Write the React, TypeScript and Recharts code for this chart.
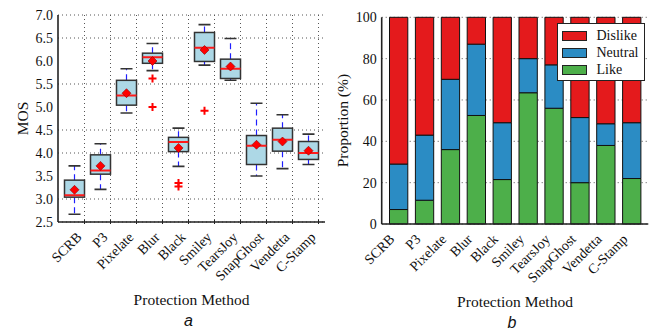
import React from "react";
import {
  ComposedChart,
  BarChart,
  Bar,
  XAxis,
  YAxis,
  CartesianGrid,
  Legend,
} from "recharts";

const METHODS = [
  "SCRB",
  "P3",
  "Pixelate",
  "Blur",
  "Black",
  "Smiley",
  "TearsJoy",
  "SnapGhost",
  "Vendetta",
  "C-Stamp",
];

// panel a: MOS box plot stats
const WHISKER_LOW = [2.67, 3.21, 4.87, 5.79, 3.71, 5.91, 5.58, 3.5, 3.66, 3.75];
const Q1 = [3.04, 3.54, 5.04, 5.95, 4.03, 5.99, 5.62, 3.75, 4.04, 3.86];
const MEDIAN = [3.08, 3.62, 5.25, 6.08, 4.24, 6.29, 5.83, 4.16, 4.29, 4.0];
const Q3 = [3.41, 3.96, 5.58, 6.17, 4.34, 6.62, 6.04, 4.38, 4.54, 4.25];
const WHISKER_HIGH = [3.72, 4.2, 5.83, 6.38, 4.54, 6.79, 6.49, 5.08, 4.83, 4.41];
const MEAN = [3.2, 3.72, 5.3, 6.0, 4.11, 6.24, 5.88, 4.18, 4.25, 4.05];
const OUTLIERS = [[], [], [], [5.62, 5.0], [3.35, 3.27], [4.92], [], [], [], []];
const MOS_TICKS = [2.5, 3.0, 3.5, 4.0, 4.5, 5.0, 5.5, 6.0, 6.5, 7.0];

// panel b: proportions (%)
const LIKE = [7, 11.5, 36, 52.5, 21.5, 63.5, 56, 20, 38, 22];
const NEUTRAL = [22, 31.5, 34, 34.5, 27.5, 16.5, 21, 31.5, 10.5, 27];
const DISLIKE = [71, 57, 30, 13, 51, 20, 23, 48.5, 51.5, 51];
const PCT_TICKS = [0, 20, 40, 60, 80, 100];

const SERIF = "'Liberation Serif', 'Times New Roman', serif";
const FRAME = "#222";
const GRID = "#555";
const RED = "#E41A1C";
const BLUE = "#2B8CC4";
const GREEN = "#4DAF4A";

const boxData = METHODS.map((name, i) => ({
  name,
  lo: WHISKER_LOW[i],
  q1: Q1[i],
  med: MEDIAN[i],
  q3: Q3[i],
  hi: WHISKER_HIGH[i],
  mean: MEAN[i],
  outliers: OUTLIERS[i],
}));

const voteData = METHODS.map((name, i) => ({
  name,
  like: LIKE[i],
  neutral: NEUTRAL[i],
  dislike: DISLIKE[i],
}));

function BoxShape(props: any) {
  const { x, y, width, height, payload } = props;
  if (!payload || !isFinite(y) || !isFinite(height)) return null;
  const top = Math.min(y, y + height);
  const h = Math.abs(height);
  const k = h / (payload.hi - payload.lo);
  const py = (v: number) => top + (payload.hi - v) * k;
  const cx = x + width / 2;
  const half = width / 2;
  const cap = 6;
  const m = py(payload.mean);
  return (
    <g>
      <line x1={cx} x2={cx} y1={py(payload.q3)} y2={py(payload.hi)} stroke="#1f1fff" strokeWidth={1.2} strokeDasharray="6 4" />
      <line x1={cx} x2={cx} y1={py(payload.q1)} y2={py(payload.lo)} stroke="#1f1fff" strokeWidth={1.2} strokeDasharray="6 4" />
      <line x1={cx - cap} x2={cx + cap} y1={py(payload.hi)} y2={py(payload.hi)} stroke="#333" strokeWidth={1.6} />
      <line x1={cx - cap} x2={cx + cap} y1={py(payload.lo)} y2={py(payload.lo)} stroke="#333" strokeWidth={1.6} />
      <rect
        x={cx - half}
        y={py(payload.q3)}
        width={width}
        height={py(payload.q1) - py(payload.q3)}
        fill="#ADD8E6"
        stroke="#333"
        strokeWidth={1.5}
      />
      <line x1={cx - half} x2={cx + half} y1={py(payload.med)} y2={py(payload.med)} stroke="#ff1a1a" strokeWidth={2} />
      <polygon
        points={`${cx},${m - 4.5} ${cx + 4.5},${m} ${cx},${m + 4.5} ${cx - 4.5},${m}`}
        fill="#ff0000"
        stroke="#8b0000"
        strokeWidth={0.6}
      />
      {payload.outliers.map((v: number, j: number) => {
        const oy = py(v);
        return (
          <g key={j}>
            <line x1={cx - 4} x2={cx + 4} y1={oy} y2={oy} stroke="#ff0000" strokeWidth={2} />
            <line x1={cx} x2={cx} y1={oy - 4} y2={oy + 4} stroke="#ff0000" strokeWidth={2} />
          </g>
        );
      })}
    </g>
  );
}

// rotated category label; optional short inward tick mark at `markDx`
const makeTick = (dx: number, markDx?: number) => (props: any) => {
  const { x, y, payload } = props;
  const tx = x + dx;
  const ty = y + 14;
  return (
    <g>
      {markDx != null && (
        <line x1={x + markDx} x2={x + markDx} y1={y} y2={y - 4} stroke={FRAME} strokeWidth={1} />
      )}
      <text
        x={tx}
        y={ty}
        transform={`rotate(-45 ${tx} ${ty})`}
        textAnchor="end"
        fontFamily={SERIF}
        fontSize={14}
        fill="#111"
      >
        {payload.value}
      </text>
    </g>
  );
};

const yTitle = (text: string, dx: number) => (props: any) => {
  const vb = props.viewBox || {};
  const x = (vb.x || 0) + dx;
  const y = (vb.y || 0) + (vb.height || 0) / 2;
  return (
    <text
      x={x}
      y={y}
      transform={`rotate(-90 ${x} ${y})`}
      textAnchor="middle"
      dominantBaseline="central"
      fontFamily={SERIF}
      fontSize={15.5}
      fill="#111"
    >
      {text}
    </text>
  );
};

const xTitle = (letter: string) => (props: any) => {
  const vb = props.viewBox || {};
  const x = (vb.x || 0) + (vb.width || 0) / 2;
  const y = vb.y || 0;
  return (
    <g>
      <text x={x} y={y + 83} textAnchor="middle" fontFamily={SERIF} fontSize={15.5} fill="#111">
        Protection Method
      </text>
      <text
        x={x - 3}
        y={y + 104}
        textAnchor="middle"
        fontFamily="'Liberation Sans', Arial, sans-serif"
        fontStyle="italic"
        fontSize={16}
        fill="#111"
      >
        {letter}
      </text>
    </g>
  );
};

// vertical grid lines sit a little right of each box (as in the source figure)
function gridX(shift: number) {
  return ({ xAxis, offset }: any) => {
    const scale = xAxis && xAxis.scale;
    const bw = scale && typeof scale.bandwidth === "function" ? scale.bandwidth() : null;
    const map =
      typeof scale === "function"
        ? (v: string) => scale(v)
        : scale && typeof scale.map === "function"
        ? (v: string) => scale.map(v)
        : null;
    if (bw != null && map) {
      const pts = METHODS.map((m) => map(m) + bw / 2 + shift);
      if (pts.every((p) => isFinite(p))) return pts;
    }
    const band = (offset.width - 7) / METHODS.length;
    return METHODS.map((_, i) => offset.left + 3.5 + band * (i + 0.5) + shift);
  };
}

function VoteLegend() {
  const items = [
    { label: "Dislike", color: RED },
    { label: "Neutral", color: BLUE },
    { label: "Like", color: GREEN },
  ];
  return (
    <div
      style={{
        background: "#fff",
        border: "1px solid #222",
        padding: "3px 6px 2px 4px",
        fontFamily: SERIF,
        fontSize: 14,
        color: "#111",
        lineHeight: "17px",
      }}
    >
      {items.map((it) => (
        <div key={it.label} style={{ display: "flex", alignItems: "center" }}>
          <span
            style={{
              display: "inline-block",
              width: 23,
              height: 8,
              background: it.color,
              border: "1px solid #222",
              marginRight: 10,
            }}
          />
          {it.label}
        </div>
      ))}
    </div>
  );
}

export default function App() {
  const axisLine = { stroke: FRAME, strokeWidth: 1.6 };
  return (
    <div
      style={{
        position: "absolute",
        left: 0,
        top: 0,
        width: 658,
        height: 332,
        background: "#fff",
      }}
    >
      <div style={{ position: "absolute", left: 0, top: 0 }}>
        <ComposedChart
          width={330}
          height={332}
          data={boxData}
          margin={{ top: 15, right: 5, bottom: 0, left: 0 }}
        >
          <CartesianGrid
            stroke={GRID}
            strokeDasharray="1 3"
            verticalCoordinatesGenerator={gridX(10)}
          />
          <XAxis
            dataKey="name"
            height={110}
            padding={{ left: 3.5, right: 3.5 }}
            axisLine={axisLine}
            tickLine={false}
            tickSize={0}
            interval={0}
            tick={makeTick(8, 10)}
            label={{ content: xTitle("a") }}
          />
          <XAxis
            xAxisId="top"
            orientation="top"
            dataKey="name"
            height={0}
            tick={false}
            tickLine={false}
            axisLine={axisLine}
          />
          <YAxis
            width={58}
            domain={[2.5, 7]}
            ticks={MOS_TICKS}
            allowDataOverflow
            tickFormatter={(v: number) => v.toFixed(1)}
            axisLine={axisLine}
            tickLine={false}
            tickSize={0}
            tickMargin={5}
            tick={{ fontFamily: SERIF, fontSize: 14, fill: "#111" }}
            label={{ content: yTitle("MOS", 22) }}
          />
          <YAxis
            yAxisId="right"
            orientation="right"
            width={0}
            tick={false}
            tickLine={false}
            axisLine={axisLine}
          />
          <Bar
            dataKey={(d: any) => [d.lo, d.hi]}
            barSize={20}
            shape={<BoxShape />}
            isAnimationActive={false}
          />
        </ComposedChart>
      </div>

      <div style={{ position: "absolute", left: 330, top: 0 }}>
        <BarChart
          width={328}
          height={332}
          data={voteData}
          margin={{ top: 17.3, right: 9.7, bottom: 0, left: 0 }}
        >
          <CartesianGrid stroke={GRID} strokeDasharray="1 3" vertical={false} />
          <XAxis
            dataKey="name"
            height={108}
            padding={{ left: 3.8, right: 3.8 }}
            axisLine={axisLine}
            tickLine={false}
            tickSize={0}
            interval={0}
            tick={makeTick(-3)}
            label={{ content: xTitle("b") }}
          />
          <XAxis
            xAxisId="top"
            orientation="top"
            dataKey="name"
            height={0}
            tick={false}
            tickLine={false}
            axisLine={axisLine}
          />
          <YAxis
            width={51.7}
            domain={[0, 100]}
            ticks={PCT_TICKS}
            axisLine={axisLine}
            tickLine={false}
            tickSize={0}
            tickMargin={5}
            tick={{ fontFamily: SERIF, fontSize: 14, fill: "#111" }}
            label={{ content: yTitle("Proportion (%)", 13) }}
          />
          <YAxis
            yAxisId="right"
            orientation="right"
            width={0}
            tick={false}
            tickLine={false}
            axisLine={axisLine}
          />
          <Legend
            layout="horizontal"
            verticalAlign="middle"
            align="center"
            content={<VoteLegend />}
            wrapperStyle={{ top: 23, left: 226.5, width: "auto", height: "auto" }}
          />
          <Bar dataKey="like" stackId="v" fill={GREEN} stroke="#111" strokeWidth={1} barSize={18.3} isAnimationActive={false} />
          <Bar dataKey="neutral" stackId="v" fill={BLUE} stroke="#111" strokeWidth={1} barSize={18.3} isAnimationActive={false} />
          <Bar dataKey="dislike" stackId="v" fill={RED} stroke="#111" strokeWidth={1} barSize={18.3} isAnimationActive={false} />
        </BarChart>
      </div>
    </div>
  );
}
